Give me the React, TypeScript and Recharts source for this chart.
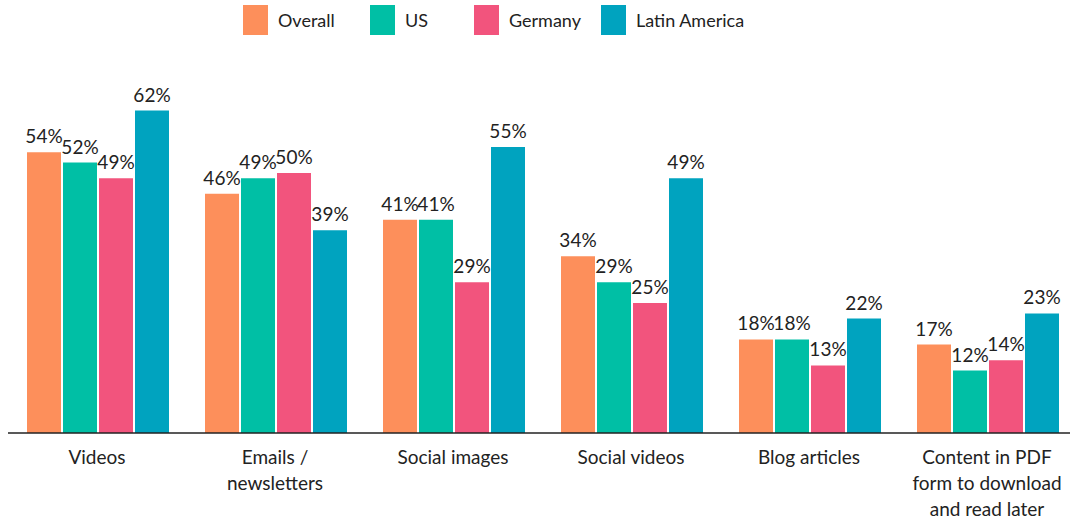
import React from 'react';
import { BarChart, Bar, XAxis, YAxis, LabelList } from 'recharts';

const categories = [
  'Videos',
  'Emails / newsletters',
  'Social images',
  'Social videos',
  'Blog articles',
  'Content in PDF form to download and read later',
];

// tick labels split as in the original
const tickLines: Record<string, string[]> = {
  'Videos': ['Videos'],
  'Emails / newsletters': ['Emails /', 'newsletters'],
  'Social images': ['Social images'],
  'Social videos': ['Social videos'],
  'Blog articles': ['Blog articles'],
  'Content in PDF form to download and read later': ['Content in PDF', 'form to download', 'and read later'],
};

const overall = [54, 46, 41, 34, 18, 17];
const us = [52, 49, 41, 29, 18, 12];
const germany = [49, 50, 29, 25, 13, 14];
const latinAmerica = [62, 39, 55, 49, 22, 23];

const series = [
  { key: 'overall', name: 'Overall', color: '#FD8F5B' },
  { key: 'us', name: 'US', color: '#00BFA5' },
  { key: 'germany', name: 'Germany', color: '#F2547D' },
  { key: 'latinAmerica', name: 'Latin America', color: '#00A3BF' },
];

const data = categories.map((c, i) => ({
  category: c,
  overall: overall[i],
  us: us[i],
  germany: germany[i],
  latinAmerica: latinAmerica[i],
}));

const FONT = 'Lato, "Open Sans", sans-serif';
const TEXT = '#222222';

const CategoryTick = (props: any) => {
  const { x, y, payload } = props;
  const lines = tickLines[payload.value] || [payload.value];
  return (
    <text x={x} y={y} textAnchor="middle" fill={TEXT} fontSize={19} fontFamily={FONT}>
      {lines.map((l, i) => (
        <tspan key={i} x={x} dy={i === 0 ? 23 : 26}>
          {l}
        </tspan>
      ))}
    </text>
  );
};

const Legend = () => (
  <div style={{ position: 'absolute', top: 0, left: 0, width: 1070, height: 40, fontFamily: FONT, fontSize: 18, color: TEXT }}>
    {series.map((s, i) => {
      const lefts = [243, 370, 474, 601];
      return (
        <div key={s.key} style={{ position: 'absolute', left: lefts[i], top: 5, display: 'flex', alignItems: 'center', height: 30 }}>
          <div style={{ width: 25, height: 30, background: s.color, marginRight: 10 }} />
          <span>{s.name}</span>
        </div>
      );
    })}
  </div>
);

export default function App() {
  return (
    <div style={{ position: 'absolute', top: 0, left: 0, width: 1070, height: 520, background: '#fff', overflow: 'hidden' }}>
      <Legend />
      <BarChart
        width={1076}
        height={520}
        data={data}
        margin={{ top: 69, right: 0, bottom: 0, left: 8 }}
        barCategoryGap={19}
        barGap={2}
      >
        <XAxis
          dataKey="category"
          interval={0}
          height={87}
          tickLine={false}
          axisLine={{ stroke: '#222', strokeWidth: 1.5 }}
          tick={<CategoryTick />}
        />
        <YAxis hide domain={[0, 70]} />
        {series.map((s) => (
          <Bar key={s.key} dataKey={s.key} name={s.name} fill={s.color} isAnimationActive={false}>
            <LabelList
              dataKey={s.key}
              position="top"
              offset={9}
              formatter={(v: any) => `${v}%`}
              style={{ fontFamily: FONT, fontSize: 19, fill: TEXT }}
            />
          </Bar>
        ))}
      </BarChart>
    </div>
  );
}
